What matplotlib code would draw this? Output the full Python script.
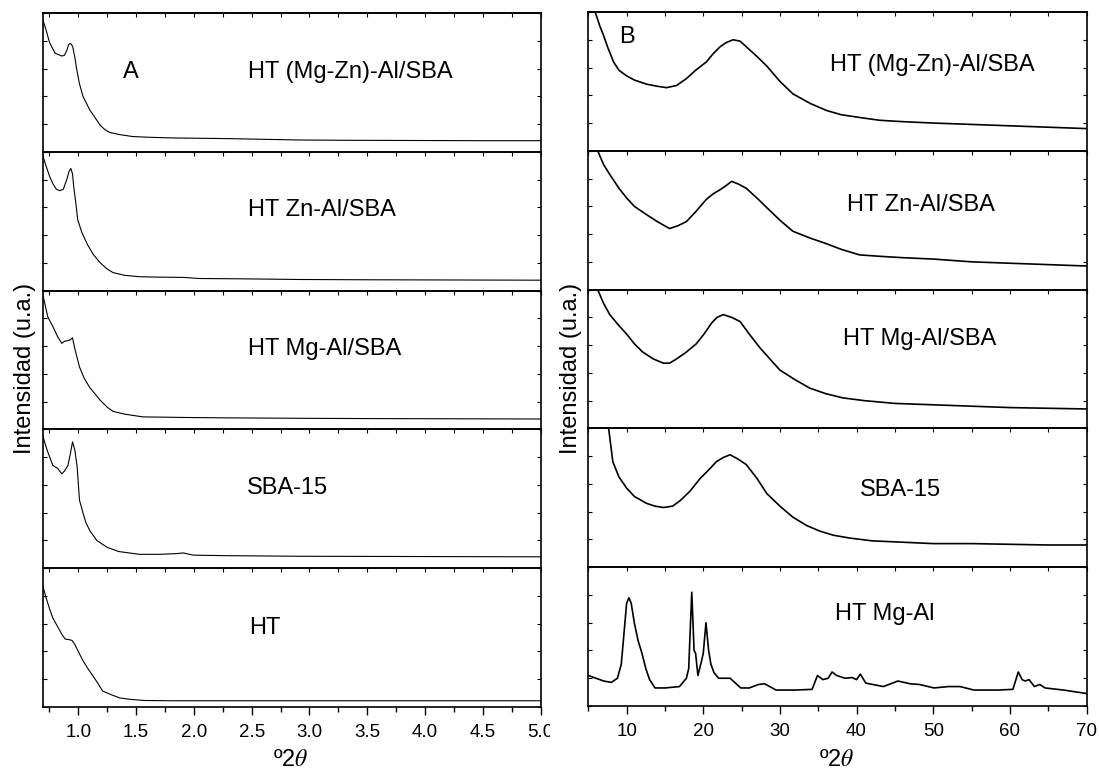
import matplotlib
matplotlib.use("Agg")
import matplotlib.pyplot as plt
from matplotlib.patches import Rectangle
from matplotlib.ticker import MultipleLocator

plt.rcParams['font.family'] = ['Liberation Sans', 'DejaVu Sans']
plt.rcParams['mathtext.fontset'] = 'stix'

# ---------------- data: panel A (low angle) ----------------
labels_A = ["HT (Mg-Zn)-Al/SBA", "HT Zn-Al/SBA", "HT Mg-Al/SBA", "SBA-15", "HT"]

xA1 = [0.69, 0.72, 0.75, 0.78, 0.80, 0.83, 0.857, 0.88, 0.90, 0.915, 0.927, 0.94, 0.952, 0.97, 0.987,
       1.01, 1.04, 1.07, 1.10, 1.15, 1.19, 1.23, 1.27, 1.35, 1.47, 1.6, 1.8, 2.0, 2.3, 2.6, 2.92,
       3.3, 3.7, 4.1, 4.5, 5.0]
yA1 = [0.96, 0.88, 0.79, 0.74, 0.71, 0.70, 0.69, 0.695, 0.73, 0.77, 0.78, 0.775, 0.755, 0.68, 0.59,
       0.49, 0.40, 0.35, 0.30, 0.24, 0.19, 0.16, 0.14, 0.125, 0.11, 0.105, 0.10, 0.098, 0.095, 0.09, 0.085,
       0.083, 0.082, 0.081, 0.08, 0.08]

xA2 = [0.69, 0.72, 0.753, 0.78, 0.81, 0.84, 0.87, 0.90, 0.92, 0.935, 0.95, 0.96, 0.98, 0.995, 1.03,
       1.08, 1.13, 1.19, 1.25, 1.30, 1.4, 1.53, 1.7, 1.91, 2.05, 2.4, 2.92, 3.5, 4.0, 4.5, 5.0]
yA2 = [0.98, 0.90, 0.82, 0.77, 0.73, 0.72, 0.73, 0.80, 0.86, 0.88, 0.84, 0.75, 0.62, 0.51, 0.42,
       0.33, 0.26, 0.20, 0.155, 0.13, 0.11, 0.10, 0.097, 0.095, 0.087, 0.085, 0.08, 0.078, 0.077, 0.076, 0.075]

xA3 = [0.69, 0.736, 0.78, 0.82, 0.857, 0.88, 0.91, 0.93, 0.95, 0.97, 1.01, 1.05, 1.10, 1.15, 1.19,
       1.25, 1.30, 1.4, 1.56, 1.75, 1.91, 2.3, 2.92, 3.5, 4.0, 4.5, 5.0]
yA3 = [0.98, 0.81, 0.74, 0.67, 0.62, 0.635, 0.64, 0.645, 0.66, 0.58, 0.45, 0.37, 0.30, 0.25, 0.21,
       0.16, 0.13, 0.11, 0.09, 0.088, 0.086, 0.083, 0.08, 0.078, 0.077, 0.076, 0.075]

xA4 = [0.69, 0.73, 0.78, 0.82, 0.857, 0.88, 0.91, 0.93, 0.95, 0.97, 0.99, 1.01, 1.04, 1.065, 1.1,
       1.16, 1.25, 1.35, 1.53, 1.7, 1.85, 1.91, 1.96, 2.0, 2.3, 2.92, 3.5, 4.0, 4.5, 5.0]
yA4 = [0.96, 0.85, 0.74, 0.72, 0.68, 0.70, 0.74, 0.82, 0.91, 0.85, 0.73, 0.49, 0.40, 0.33, 0.27,
       0.20, 0.15, 0.12, 0.10, 0.10, 0.105, 0.11, 0.10, 0.094, 0.09, 0.086, 0.085, 0.084, 0.083, 0.082]

xA5 = [0.69, 0.72, 0.75, 0.78, 0.82, 0.86, 0.886, 0.92, 0.945, 0.97, 1.0, 1.036, 1.08, 1.13, 1.17,
       1.21, 1.28, 1.36, 1.45, 1.57, 1.8, 2.2, 3.0, 4.0, 5.0]
yA5 = [0.88, 0.79, 0.71, 0.64, 0.58, 0.52, 0.49, 0.485, 0.48, 0.45, 0.40, 0.34, 0.28, 0.22, 0.17,
       0.115, 0.09, 0.065, 0.055, 0.047, 0.045, 0.045, 0.045, 0.045, 0.045]

# ---------------- data: panel B (wide angle) ----------------
labels_B = ["HT (Mg-Zn)-Al/SBA", "HT Zn-Al/SBA", "HT Mg-Al/SBA", "SBA-15", "HT Mg-Al"]

xB1 = [5.9, 6.5, 7.0, 7.5, 8.3, 9, 10, 11, 12.6, 14, 15.2, 16.5, 17.8, 19, 20.4, 21.3, 22.2, 23, 23.9,
       24.8, 25.6, 27, 28.3, 30, 31.7, 34, 36.1, 38, 40.4, 43, 46, 50, 55, 60, 65, 70]
yB1 = [1.0, 0.90, 0.83, 0.75, 0.64, 0.58, 0.54, 0.51, 0.48, 0.465, 0.455, 0.47, 0.52, 0.58, 0.64, 0.70,
       0.75, 0.78, 0.80, 0.79, 0.75, 0.68, 0.61, 0.50, 0.41, 0.34, 0.29, 0.26, 0.24, 0.22, 0.21, 0.20,
       0.19, 0.18, 0.17, 0.16]

xB2 = [6.3, 7, 7.8, 9, 10, 11, 12.6, 14, 15.6, 16.7, 17.8, 19, 20.4, 21.3, 22.2, 23, 23.7, 24.6, 25.6,
       27, 28.3, 30, 31.7, 34, 36.1, 38, 40.4, 43, 46, 50, 55, 60, 65, 70]
yB2 = [0.99, 0.90, 0.83, 0.73, 0.66, 0.60, 0.54, 0.49, 0.44, 0.46, 0.49, 0.56, 0.65, 0.69, 0.72, 0.75,
       0.78, 0.76, 0.73, 0.66, 0.59, 0.50, 0.42, 0.37, 0.33, 0.29, 0.25, 0.24, 0.23, 0.22, 0.20, 0.19,
       0.18, 0.17]

xB3 = [6.3, 7, 7.8, 9, 10, 11, 12.1, 13.5, 14.8, 15.6, 16.5, 17.8, 19.1, 20.1, 21.1, 21.8, 22.6, 23.7,
       24.8, 26, 27.4, 28.7, 30, 32, 33.9, 36, 38.2, 41, 45, 50, 55, 60, 65, 70]
yB3 = [0.99, 0.90, 0.82, 0.74, 0.68, 0.61, 0.55, 0.50, 0.47, 0.47, 0.50, 0.55, 0.61, 0.68, 0.76, 0.80,
       0.82, 0.80, 0.77, 0.68, 0.58, 0.50, 0.42, 0.35, 0.29, 0.25, 0.22, 0.20, 0.18, 0.17, 0.16, 0.15,
       0.145, 0.14]

xB4 = [7.5, 7.7, 8.2, 9, 10, 11, 12.6, 13.7, 14.8, 16, 17, 18.3, 19.6, 20.7, 21.7, 22.6, 23.5, 24.5,
       25.6, 27, 28.3, 30, 31.7, 33.5, 35.2, 37, 39.1, 42, 46, 50, 55, 60, 65, 70]
yB4 = [1.05, 0.98, 0.76, 0.65, 0.57, 0.51, 0.46, 0.44, 0.43, 0.44, 0.48, 0.55, 0.64, 0.70, 0.76, 0.79,
       0.81, 0.78, 0.74, 0.64, 0.53, 0.44, 0.36, 0.30, 0.26, 0.23, 0.21, 0.19, 0.18, 0.17, 0.17, 0.165,
       0.16, 0.16]

xB5 = [5, 6, 7, 8, 8.8, 9.3, 9.7, 10.0, 10.3, 10.6, 11.0, 11.5, 12.0, 12.5, 13.0, 13.7, 15, 16.9,
       17.8, 18.1, 18.3, 18.5, 18.8, 19.0, 19.3, 19.8, 20.0, 20.35, 20.7, 21.0, 21.4, 22.0, 23.0, 23.5,
       24.9, 26, 27.2, 28, 29.5, 32, 34.2, 34.9, 35.6, 36.3, 36.8, 37.4, 38.5, 39.4, 40.0, 40.5, 41.2,
       43.5, 45.4, 47, 48.2, 50.1, 52, 53.5, 55.3, 58.5, 60.4, 61.1, 61.6, 62.0, 62.5, 63.2, 63.9, 64.6,
       67, 70]
yB5 = [0.22, 0.20, 0.18, 0.17, 0.20, 0.30, 0.55, 0.74, 0.78, 0.74, 0.60, 0.47, 0.38, 0.27, 0.19, 0.13,
       0.13, 0.14, 0.20, 0.27, 0.55, 0.82, 0.40, 0.38, 0.22, 0.33, 0.38, 0.60, 0.40, 0.30, 0.24, 0.20,
       0.20, 0.20, 0.13, 0.13, 0.155, 0.16, 0.115, 0.115, 0.12, 0.22, 0.19, 0.20, 0.245, 0.22, 0.20,
       0.205, 0.19, 0.23, 0.165, 0.14, 0.18, 0.16, 0.155, 0.13, 0.14, 0.14, 0.115, 0.115, 0.12, 0.245,
       0.19, 0.18, 0.19, 0.14, 0.155, 0.13, 0.115, 0.09]

series_A = [(xA1, yA1), (xA2, yA2), (xA3, yA3), (xA4, yA4), (xA5, yA5)]
series_B = [(xB1, yB1), (xB2, yB2), (xB3, yB3), (xB4, yB4), (xB5, yB5)]

xlabel = 'º2$\\theta$'
ylabel = 'Intensidad (u.a.)'

# ---------------- layout ----------------
W, H = 1099, 772
fig = plt.figure(figsize=(W / 100, H / 100), dpi=100)


def rect(x0, y0, x1, y1):
    return [x0 / W, 1 - y1 / H, (x1 - x0) / W, (y1 - y0) / H]


def make_column(x0, x1, ytop, ybot, series, xlim, major, minor, lw):
    n = len(series)
    hstep = (ybot - ytop) / n
    axes = []
    for i, (xs, ys) in enumerate(series):
        ax = fig.add_axes(rect(x0, ytop + i * hstep, x1, ytop + (i + 1) * hstep))
        ax.patch.set_visible(False)
        ax.plot(xs, ys, color='black', lw=lw)
        ax.set_xlim(*xlim)
        ax.set_ylim(0, 1)
        for s in ax.spines.values():
            s.set_linewidth(1.2)
        ax.xaxis.set_major_locator(MultipleLocator(major))
        ax.xaxis.set_minor_locator(MultipleLocator(minor))
        ax.yaxis.set_major_locator(MultipleLocator(0.2))
        ax.tick_params(axis='y', which='both', direction='in', left=True, right=True,
                       labelleft=False, length=3, width=0.8)
        last = (i == n - 1)
        if last:
            ax.tick_params(axis='x', which='major', direction='out', length=6, width=1.0,
                           labelsize=13.5, pad=6)
            ax.tick_params(axis='x', which='minor', direction='out', length=3.5, width=1.0)
        else:
            ax.tick_params(axis='x', which='both', direction='out', length=3, width=0.8,
                           labelbottom=False)
        if i == 0:
            sec = ax.secondary_xaxis('top')
            sec.xaxis.set_major_locator(MultipleLocator(major))
            sec.xaxis.set_minor_locator(MultipleLocator(minor))
            sec.tick_params(axis='x', which='both', direction='in', length=3, width=0.8,
                            labeltop=False)
            sec.spines['top'].set_linewidth(1.2)
        axes.append(ax)
    return axes


axA = make_column(42.5, 540.5, 13, 707, series_A, (0.69, 5.0), 0.5, 0.25, 0.8)
axB = make_column(588.3, 1086.5, 12, 706, series_B, (5, 70), 10, 5, 1.2)


def ftext(px, py, s, **kw):
    fig.text(px / W, 1 - py / H, s, fontsize=kw.pop('fontsize', 17), **kw)


# panel labels
ftext(131, 72, 'A', ha='center', va='center')
ftext(627, 37, 'B', ha='center', va='center')

posA = [(248, 72), (248, 210), (248, 349), (247, 488), (249, 628)]
for (px, py), lab in zip(posA, labels_A):
    ftext(px, py, lab, ha='left', va='center')

posB = [(830, 65), (847, 205), (843, 339), (860, 490), (835, 614)]
for (px, py), lab in zip(posB, labels_B):
    ftext(px, py, lab, ha='left', va='center')

# axis labels
ftext(291, 760, xlabel, ha='center', va='center')
ftext(837, 760, xlabel, ha='center', va='center')
ftext(25, 368, ylabel, ha='center', va='center', rotation=90)
ftext(571, 368, ylabel, ha='center', va='center', rotation=90)

# the last tick label of panel A is cut off in the original
fig.add_artist(Rectangle((550 / W, 1 - 748 / H), 14 / W, 30 / H, transform=fig.transFigure,
                         facecolor='white', edgecolor='none', zorder=20))

fig.savefig('out.png', dpi=100)
